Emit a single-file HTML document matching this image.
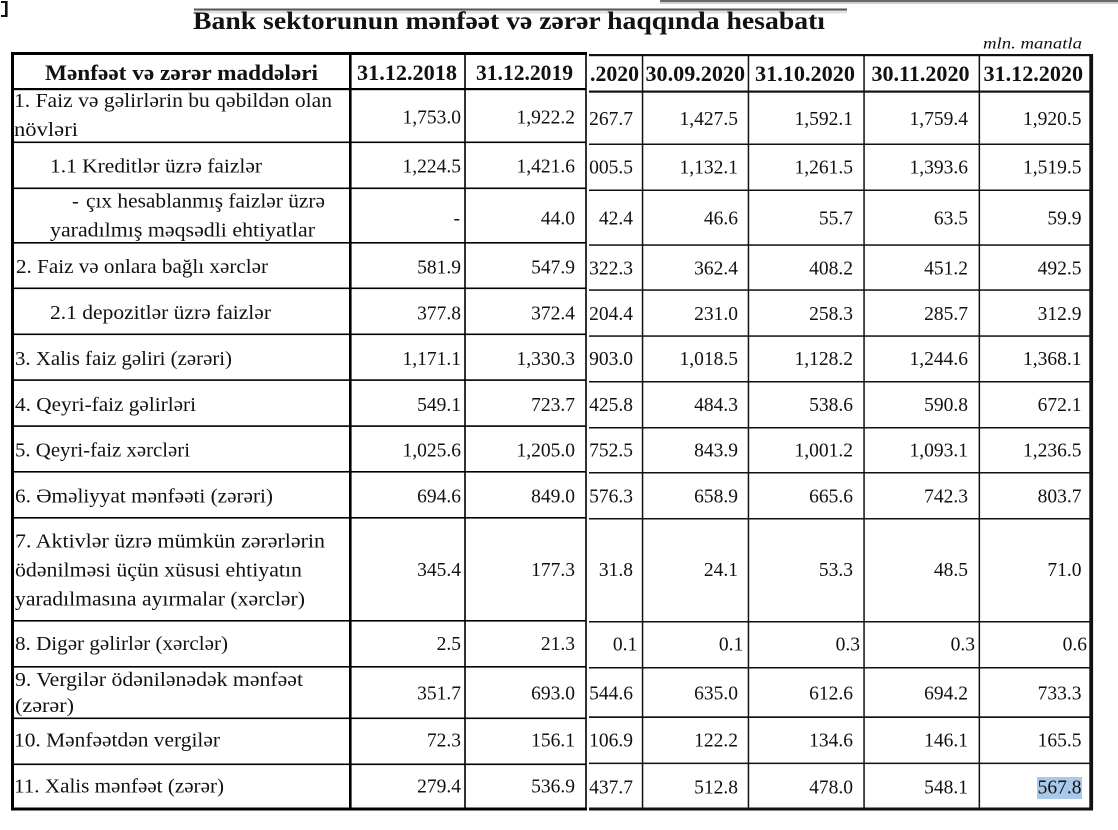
<!DOCTYPE html>
<html>
<head>
<meta charset="utf-8">
<style>
html,body{margin:0;padding:0;background:#fff;}
svg{display:block;}
text{font-family:"Liberation Serif","DejaVu Serif",serif;fill:#111;}
.n{font-size:19.5px;text-anchor:end;}
.l{font-size:20.5px;}
.h{font-size:22px;font-weight:bold;}
</style>
</head>
<body>
<svg width="1118" height="830" viewBox="0 0 1118 830" xmlns="http://www.w3.org/2000/svg">
<rect x="0" y="0" width="1118" height="830" fill="#fff"/>

<!-- top-left bracket -->
<rect x="1" y="1" width="6.5" height="2" fill="#111"/>
<rect x="5" y="1" width="2.6" height="16" fill="#111"/>
<rect x="1" y="15" width="6.5" height="2" fill="#111"/>

<!-- gray decorative lines -->
<rect x="660" y="0" width="458" height="2" fill="#6a6a6a"/>
<rect x="660" y="2" width="458" height="2" fill="#cfcfcf"/>
<rect x="194" y="8.5" width="653" height="2" fill="#555"/>
<rect x="194" y="10.5" width="653" height="3" fill="#e2e2e2"/>

<!-- title -->
<text x="193" y="29" font-size="25" font-weight="bold" textLength="632" lengthAdjust="spacingAndGlyphs">Bank sektorunun mənfəət və zərər haqqında hesabatı</text>
<text x="1082" y="48.5" font-size="16" font-style="italic" text-anchor="end" textLength="99" lengthAdjust="spacingAndGlyphs">mln. manatla</text>

<!-- highlight -->
<rect x="1037" y="777" width="45" height="22" fill="#a8c9ea"/>

<!-- LEFT PIECE GRID -->
<g fill="#000">
  <rect x="11" y="52" width="576" height="3"/>
  <rect x="11" y="88" width="575" height="2.2"/>
  <rect x="11" y="141.5" width="575" height="1.6"/>
  <rect x="11" y="187.5" width="575" height="1.6"/>
  <rect x="11" y="242" width="575" height="1.6"/>
  <rect x="11" y="287.5" width="575" height="1.6"/>
  <rect x="11" y="333.5" width="575" height="1.6"/>
  <rect x="11" y="379.3" width="575" height="1.6"/>
  <rect x="11" y="425.3" width="575" height="1.6"/>
  <rect x="11" y="471" width="575" height="1.6"/>
  <rect x="11" y="517" width="575" height="1.6"/>
  <rect x="11" y="620" width="575" height="1.6"/>
  <rect x="11" y="666" width="575" height="1.6"/>
  <rect x="11" y="717.5" width="575" height="1.6"/>
  <rect x="11" y="763.5" width="575" height="1.6"/>
  <rect x="11" y="807.5" width="576" height="3"/>
  <rect x="11" y="52" width="3" height="758.5"/>
  <rect x="349" y="52" width="2.6" height="758.5"/>
  <rect x="464.2" y="52" width="1.6" height="758.5"/>
  <rect x="585.2" y="52" width="1.6" height="758.5"/>
</g>

<!-- RIGHT PIECE GRID -->
<g fill="#111">
  <rect x="589" y="54" width="504" height="2.2"/>
  <rect x="589" y="90.5" width="502" height="2.2"/>
  <rect x="589" y="143.5" width="502" height="1.5"/>
  <rect x="589" y="189.5" width="502" height="1.5"/>
  <rect x="589" y="244.3" width="502" height="1.5"/>
  <rect x="589" y="289.3" width="502" height="1.5"/>
  <rect x="589" y="335.3" width="502" height="1.5"/>
  <rect x="589" y="381" width="502" height="1.5"/>
  <rect x="589" y="427" width="502" height="1.5"/>
  <rect x="589" y="472" width="502" height="1.5"/>
  <rect x="589" y="518" width="502" height="1.5"/>
  <rect x="589" y="621" width="502" height="1.5"/>
  <rect x="589" y="667" width="502" height="1.5"/>
  <rect x="589" y="716.3" width="502" height="1.7"/>
  <rect x="589" y="762.6" width="502" height="1.5"/>
  <rect x="589" y="807.5" width="504" height="3"/>
  <rect x="641.8" y="54" width="1.5" height="756"/>
  <rect x="747.7" y="54" width="1.5" height="756"/>
  <rect x="863.3" y="54" width="1.5" height="756"/>
  <rect x="978.6" y="54" width="1.5" height="756"/>
  <rect x="1089.3" y="54" width="3.8" height="756.5"/>
</g>

<!-- HEADER TEXT -->
<text class="h" x="45" y="80" textLength="273" lengthAdjust="spacingAndGlyphs">Mənfəət və zərər maddələri</text>
<text class="h" x="357" y="80" textLength="100" lengthAdjust="spacingAndGlyphs">31.12.2018</text>
<text class="h" x="476" y="80" textLength="97" lengthAdjust="spacingAndGlyphs">31.12.2019</text>
<text class="h" x="590" y="81" textLength="49" lengthAdjust="spacingAndGlyphs">.2020</text>
<text class="h" x="645.5" y="81" textLength="99.5" lengthAdjust="spacingAndGlyphs">30.09.2020</text>
<text class="h" x="755" y="81" textLength="100" lengthAdjust="spacingAndGlyphs">31.10.2020</text>
<text class="h" x="871.5" y="81" textLength="98" lengthAdjust="spacingAndGlyphs">30.11.2020</text>
<text class="h" x="983.5" y="81" textLength="99.5" lengthAdjust="spacingAndGlyphs">31.12.2020</text>

<!-- LABELS -->
<text class="l" x="14" y="107" textLength="318" lengthAdjust="spacingAndGlyphs">1. Faiz və gəlirlərin bu qəbildən olan</text>
<text class="l" x="14" y="136" textLength="64" lengthAdjust="spacingAndGlyphs">növləri</text>
<text class="l" x="50" y="172.7" textLength="212" lengthAdjust="spacingAndGlyphs">1.1 Kreditlər üzrə faizlər</text>
<text class="l" x="72" y="207.3">-</text>
<text class="l" x="86" y="207.3" textLength="239" lengthAdjust="spacingAndGlyphs">çıx hesablanmış faizlər üzrə</text>
<text class="l" x="50" y="236.7" textLength="265" lengthAdjust="spacingAndGlyphs">yaradılmış məqsədli ehtiyatlar</text>
<text class="l" x="16" y="273" textLength="252" lengthAdjust="spacingAndGlyphs">2. Faiz və onlara bağlı xərclər</text>
<text class="l" x="50" y="319" textLength="221" lengthAdjust="spacingAndGlyphs">2.1 depozitlər üzrə faizlər</text>
<text class="l" x="15" y="365" textLength="217" lengthAdjust="spacingAndGlyphs">3. Xalis faiz gəliri (zərəri)</text>
<text class="l" x="15" y="411" textLength="181" lengthAdjust="spacingAndGlyphs">4. Qeyri-faiz gəlirləri</text>
<text class="l" x="15" y="456.7" textLength="175" lengthAdjust="spacingAndGlyphs">5. Qeyri-faiz xərcləri</text>
<text class="l" x="15" y="502.7" textLength="258" lengthAdjust="spacingAndGlyphs">6. Əməliyyat mənfəəti (zərəri)</text>
<text class="l" x="15" y="547.5" textLength="310" lengthAdjust="spacingAndGlyphs">7. Aktivlər üzrə mümkün zərərlərin</text>
<text class="l" x="15" y="576.5" textLength="287" lengthAdjust="spacingAndGlyphs">ödənilməsi üçün xüsusi ehtiyatın</text>
<text class="l" x="15" y="605.5" textLength="290" lengthAdjust="spacingAndGlyphs">yaradılmasına ayırmalar (xərclər)</text>
<text class="l" x="15" y="650" textLength="213" lengthAdjust="spacingAndGlyphs">8. Digər gəlirlər (xərclər)</text>
<text class="l" x="15" y="686" textLength="288" lengthAdjust="spacingAndGlyphs">9. Vergilər ödənilənədək mənfəət</text>
<text class="l" x="15" y="712" textLength="59" lengthAdjust="spacingAndGlyphs">(zərər)</text>
<text class="l" x="14" y="746.7" textLength="206" lengthAdjust="spacingAndGlyphs">10. Mənfəətdən vergilər</text>
<text class="l" x="14" y="792.7" textLength="210" lengthAdjust="spacingAndGlyphs">11. Xalis mənfəət (zərər)</text>

<!-- col 31.12.2018 -->
<text class="n" x="461" y="123.3">1,753.0</text>
<text class="n" x="461" y="172.7">1,224.5</text>
<text class="n" x="460" y="224.3">-</text>
<text class="n" x="461" y="273.3">581.9</text>
<text class="n" x="461" y="319.3">377.8</text>
<text class="n" x="461" y="365">1,171.1</text>
<text class="n" x="461" y="411">549.1</text>
<text class="n" x="461" y="456.7">1,025.6</text>
<text class="n" x="461" y="502.7">694.6</text>
<text class="n" x="461" y="576">345.4</text>
<text class="n" x="461" y="650">2.5</text>
<text class="n" x="461" y="699.3">351.7</text>
<text class="n" x="461" y="746.7">72.3</text>
<text class="n" x="461" y="792.7">279.4</text>

<!-- col 31.12.2019 -->
<text class="n" x="575" y="123.3">1,922.2</text>
<text class="n" x="575" y="172.7">1,421.6</text>
<text class="n" x="575" y="224.3">44.0</text>
<text class="n" x="575" y="273.3">547.9</text>
<text class="n" x="575" y="319.3">372.4</text>
<text class="n" x="575" y="365">1,330.3</text>
<text class="n" x="575" y="411">723.7</text>
<text class="n" x="575" y="456.7">1,205.0</text>
<text class="n" x="575" y="502.7">849.0</text>
<text class="n" x="575" y="576">177.3</text>
<text class="n" x="575" y="650">21.3</text>
<text class="n" x="575" y="699.3">693.0</text>
<text class="n" x="575" y="746.7">156.1</text>
<text class="n" x="575" y="792.7">536.9</text>

<!-- col .2020 -->
<text class="n" x="633" y="125">267.7</text>
<text class="n" x="633" y="173.3">005.5</text>
<text class="n" x="633" y="224.3">42.4</text>
<text class="n" x="633" y="274.3">322.3</text>
<text class="n" x="633" y="320">204.4</text>
<text class="n" x="633" y="365">903.0</text>
<text class="n" x="633" y="411">425.8</text>
<text class="n" x="633" y="456.7">752.5</text>
<text class="n" x="633" y="502.7">576.3</text>
<text class="n" x="633" y="576">31.8</text>
<text class="n" x="637.3" y="650.5">0.1</text>
<text class="n" x="633" y="699.3">544.6</text>
<text class="n" x="633" y="746.7">106.9</text>
<text class="n" x="633" y="793.3">437.7</text>

<!-- col 30.09.2020 -->
<text class="n" x="738" y="125">1,427.5</text>
<text class="n" x="738" y="173.3">1,132.1</text>
<text class="n" x="738" y="224.3">46.6</text>
<text class="n" x="738" y="274.3">362.4</text>
<text class="n" x="738" y="320">231.0</text>
<text class="n" x="738" y="365">1,018.5</text>
<text class="n" x="738" y="411">484.3</text>
<text class="n" x="738" y="456.7">843.9</text>
<text class="n" x="738" y="502.7">658.9</text>
<text class="n" x="738" y="576">24.1</text>
<text class="n" x="743.3" y="650.5">0.1</text>
<text class="n" x="738" y="699.3">635.0</text>
<text class="n" x="738" y="746.7">122.2</text>
<text class="n" x="738" y="793.3">512.8</text>

<!-- col 31.10.2020 -->
<text class="n" x="853" y="125">1,592.1</text>
<text class="n" x="853" y="173.3">1,261.5</text>
<text class="n" x="853" y="224.3">55.7</text>
<text class="n" x="853" y="274.3">408.2</text>
<text class="n" x="853" y="320">258.3</text>
<text class="n" x="853" y="365">1,128.2</text>
<text class="n" x="853" y="411">538.6</text>
<text class="n" x="853" y="456.7">1,001.2</text>
<text class="n" x="853" y="502.7">665.6</text>
<text class="n" x="853" y="576">53.3</text>
<text class="n" x="860" y="650.5">0.3</text>
<text class="n" x="853" y="699.3">612.6</text>
<text class="n" x="853" y="746.7">134.6</text>
<text class="n" x="853" y="793.3">478.0</text>

<!-- col 30.11.2020 -->
<text class="n" x="968" y="125">1,759.4</text>
<text class="n" x="968" y="173.3">1,393.6</text>
<text class="n" x="968" y="224.3">63.5</text>
<text class="n" x="968" y="274.3">451.2</text>
<text class="n" x="968" y="320">285.7</text>
<text class="n" x="968" y="365">1,244.6</text>
<text class="n" x="968" y="411">590.8</text>
<text class="n" x="968" y="456.7">1,093.1</text>
<text class="n" x="968" y="502.7">742.3</text>
<text class="n" x="968" y="576">48.5</text>
<text class="n" x="975" y="650.5">0.3</text>
<text class="n" x="968" y="699.3">694.2</text>
<text class="n" x="968" y="746.7">146.1</text>
<text class="n" x="968" y="793.3">548.1</text>

<!-- col 31.12.2020 -->
<text class="n" x="1081.5" y="125">1,920.5</text>
<text class="n" x="1081.5" y="173.3">1,519.5</text>
<text class="n" x="1081.5" y="224.3">59.9</text>
<text class="n" x="1081.5" y="274.3">492.5</text>
<text class="n" x="1081.5" y="320">312.9</text>
<text class="n" x="1081.5" y="365">1,368.1</text>
<text class="n" x="1081.5" y="411">672.1</text>
<text class="n" x="1081.5" y="456.7">1,236.5</text>
<text class="n" x="1081.5" y="502.7">803.7</text>
<text class="n" x="1081.5" y="576">71.0</text>
<text class="n" x="1087" y="650.5">0.6</text>
<text class="n" x="1081.5" y="699.3">733.3</text>
<text class="n" x="1081.5" y="746.7">165.5</text>
<text class="n" x="1081.5" y="793.3">567.8</text>
</svg>
</body>
</html>
